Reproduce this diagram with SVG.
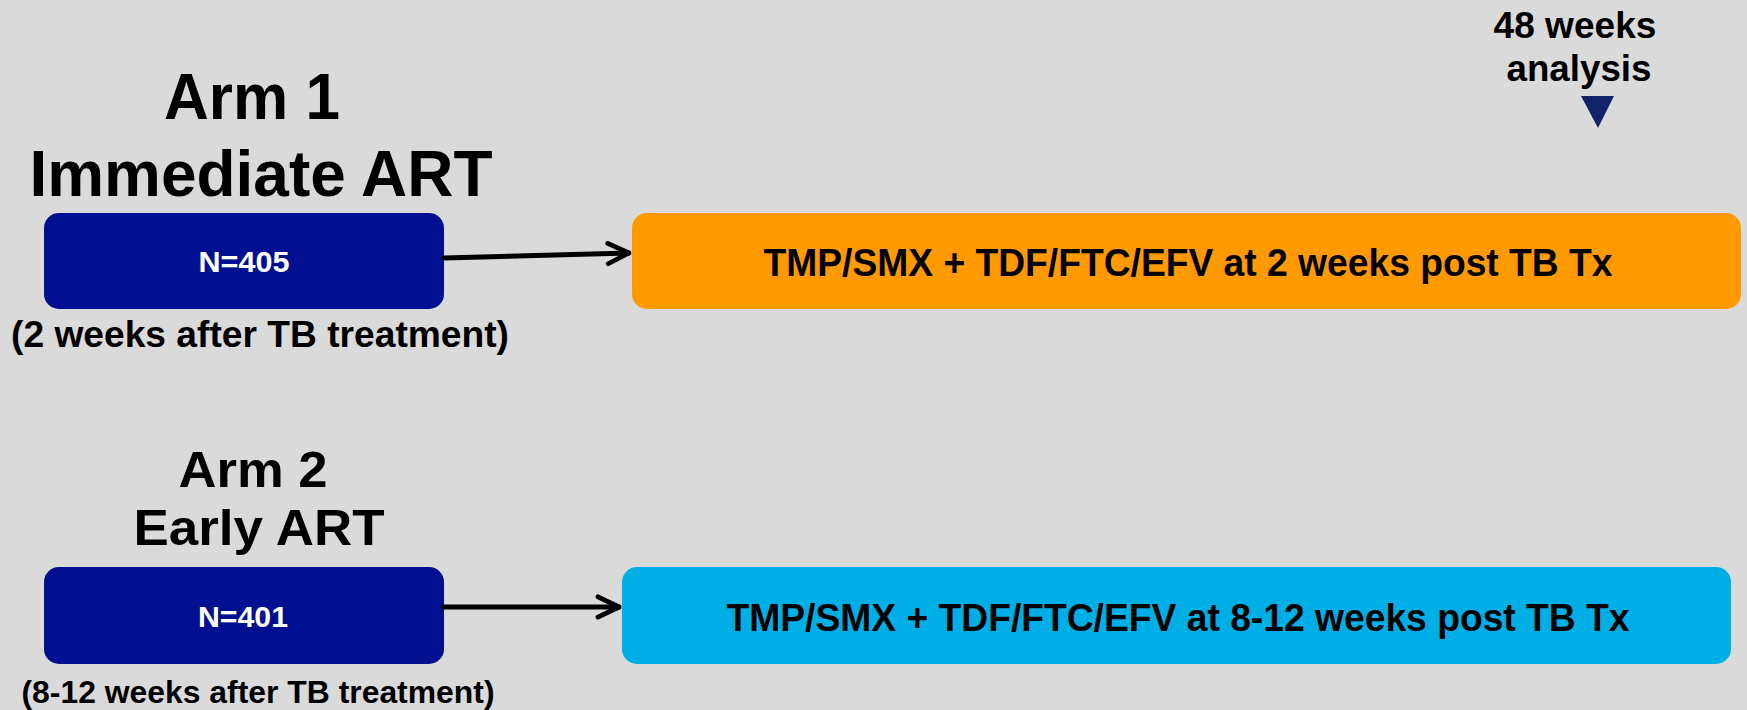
<svg xmlns="http://www.w3.org/2000/svg" width="1747" height="710" viewBox="0 0 1747 710">
<style>
text{font-family:"Liberation Sans",Arial,sans-serif;font-weight:bold;fill:#000;text-anchor:middle}
.arm{fill:#001090}
.n{fill:#fff;font-size:30px}
.tx{font-size:39px}
.conn{stroke:#000;stroke-width:5;fill:none;stroke-linecap:round;stroke-linejoin:round}
</style>
<defs>
<marker id="chev" viewBox="0 0 12 12" refX="11" refY="6" markerWidth="5.2" markerHeight="5.2" markerUnits="strokeWidth" orient="auto">
<path d="M1.3,1.3 L11,6 L1.3,10.7" fill="none" stroke="#000" stroke-width="2.2" stroke-linecap="round" stroke-linejoin="round"/>
</marker>
</defs>
<rect width="1747" height="710" fill="#dadada"/>
<g id="analysis">
<text x="1575" y="38" style="font-size:36px" textLength="163" lengthAdjust="spacingAndGlyphs">48 weeks</text>
<text x="1579" y="81" style="font-size:36px" textLength="145" lengthAdjust="spacingAndGlyphs">analysis</text>
<polygon points="1581,96 1614,96 1598,128" fill="#122369"/>
</g>
<g id="arm1">
<text x="252" y="119" style="font-size:64px" textLength="176" lengthAdjust="spacingAndGlyphs">Arm 1</text>
<text x="261" y="196" style="font-size:64px" textLength="463" lengthAdjust="spacingAndGlyphs">Immediate ART</text>
<rect class="arm" x="44" y="213" width="400" height="96" rx="15"/>
<text class="n" x="244" y="272" textLength="91" lengthAdjust="spacingAndGlyphs">N=405</text>
<text x="260" y="347" style="font-size:36px" textLength="498" lengthAdjust="spacingAndGlyphs">(2 weeks after TB treatment)</text>
</g>
<g id="arm1-regimen">
<rect x="632" y="213" width="1109" height="96" rx="15" fill="#ff9900"/>
<text class="tx" x="1188" y="276" textLength="849" lengthAdjust="spacingAndGlyphs">TMP/SMX + TDF/FTC/EFV at 2 weeks post TB Tx</text>
</g>
<g id="arm2">
<text x="253" y="487" style="font-size:50px" textLength="149" lengthAdjust="spacingAndGlyphs">Arm 2</text>
<text x="259" y="545" style="font-size:50px" textLength="251" lengthAdjust="spacingAndGlyphs">Early ART</text>
<rect class="arm" x="44" y="567" width="400" height="97" rx="15"/>
<text class="n" x="243" y="627" textLength="90" lengthAdjust="spacingAndGlyphs">N=401</text>
<text x="258" y="703" style="font-size:32px" textLength="473" lengthAdjust="spacingAndGlyphs">(8-12 weeks after TB treatment)</text>
</g>
<g id="arm2-regimen">
<rect x="622" y="567" width="1109" height="97" rx="15" fill="#00aee6"/>
<text class="tx" x="1178" y="631" textLength="903" lengthAdjust="spacingAndGlyphs">TMP/SMX + TDF/FTC/EFV at 8-12 weeks post TB Tx</text>
</g>
<g id="connectors">
<line class="conn" x1="444" y1="258" x2="629" y2="253" marker-end="url(#chev)"/>
<line class="conn" x1="444" y1="607" x2="619" y2="607" marker-end="url(#chev)"/>
</g>
</svg>
